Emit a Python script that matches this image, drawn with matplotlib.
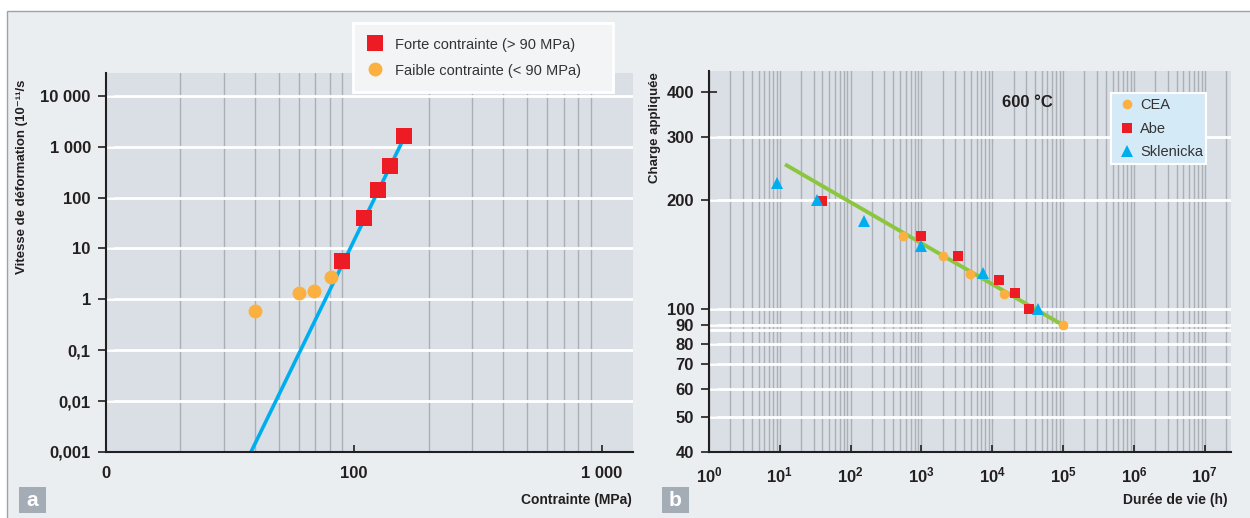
import matplotlib
matplotlib.use('Agg')
import matplotlib.pyplot as plt
from matplotlib.ticker import FixedLocator, NullLocator, NullFormatter
from matplotlib.patches import Rectangle
from matplotlib.lines import Line2D

plt.rcParams['font.family'] = ['Liberation Sans', 'DejaVu Sans']
plt.rcParams['mathtext.fontset'] = 'custom'
plt.rcParams['mathtext.rm'] = 'Liberation Sans'
plt.rcParams['mathtext.bf'] = 'Liberation Sans:bold'

# panel a : vitesse de deformation vs contrainte
stress_high = [90, 110, 125, 140, 160]
rate_high = [5.6, 39, 143, 424, 1640]
stress_low = [40, 60, 69, 81]
rate_low = [0.58, 1.31, 1.44, 2.8]
fit_a_x = [38.5, 160]
fit_a_y = [0.001, 1550]
a_yticks = [0.001, 0.01, 0.1, 1, 10, 100, 1000, 10000]
a_ylabels = ['0,001', '0,01', '0,1', '1', '10', '100', '1 000', '10 000']
a_xticks = [10, 100, 1000]
a_xlabels = ['0', '100', '1 000']

# panel b : charge appliquee vs duree de vie, 600 C
cea_t = [540, 2040, 4900, 14750, 1e5]
cea_s = [159, 140, 125, 110, 90]
abe_t = [40, 1000, 3330, 12600, 21100, 33300]
abe_s = [199, 159, 140, 120, 110.5, 99.7]
skl_t = [9.1, 33, 152, 970, 7470, 44400]
skl_s = [224, 200, 175, 149, 126, 100]
fit_b_t = [12.5, 1e5]
fit_b_s = [250, 90]
b_yticks = [40, 50, 60, 70, 80, 90, 100, 200, 300, 400]
b_xexp = list(range(0, 8))

RED = '#ed1c24'
ORANGE = '#fbb040'
BLUE = '#00aeef'
GREEN = '#8cc63f'
DARK = '#231f20'
PLOT_BG = '#d9dfe5'
PANEL_BG = '#ebeef1'
GRID = '#aab0b6'

W, H = 1250, 518
fig = plt.figure(figsize=(W / 100, H / 100), dpi=100)
fig.patch.set_facecolor('white')
fig.patches.append(Rectangle((7 / W, -0.01), 1.0, (H - 11) / H + 0.01, transform=fig.transFigure,
                             fc=PANEL_BG, ec='#9aa3ab', lw=1, zorder=-10))


def style_axes(ax):
    ax.set_facecolor(PLOT_BG)
    for s in ['top', 'right']:
        ax.spines[s].set_visible(False)
    for s in ['left', 'bottom']:
        ax.spines[s].set_color(DARK)
        ax.spines[s].set_linewidth(1.5)
    ax.set_axisbelow(True)
    ax.tick_params(axis='y', which='major', direction='inout', length=11.5, width=1.2,
                   color=DARK, labelsize=12, pad=5, labelcolor=DARK)
    ax.tick_params(axis='x', which='major', direction='in', length=5, width=1.2,
                   color=DARK, labelsize=12, pad=10, labelcolor=DARK)
    ax.tick_params(which='minor', length=0)


# ---------- panel a ----------
ax1 = fig.add_axes([105.7 / W, 1 - 452 / H, (633 - 105.7) / W, (452 - 73) / H])
ax1.set_xscale('log')
ax1.set_yscale('log')
ax1.set_xlim(10, 1334)
ax1.set_ylim(0.001, 28000)
style_axes(ax1)
ax1.yaxis.set_major_locator(FixedLocator(a_yticks))
ax1.set_yticklabels(a_ylabels, fontweight='bold')
ax1.yaxis.set_minor_locator(NullLocator())
ax1.xaxis.set_major_locator(FixedLocator(a_xticks))
ax1.set_xticklabels(a_xlabels, fontweight='bold')
ax1.xaxis.set_minor_locator(FixedLocator([m * 10 ** e for e in (1, 2) for m in range(2, 10)]))
ax1.xaxis.set_minor_formatter(NullFormatter())
ax1.grid(which='minor', axis='x', color=GRID, lw=1)
for v in a_yticks[1:]:
    ax1.axhline(v, color='white', lw=2, zorder=0.8)

ax1.plot(fit_a_x, fit_a_y, color=BLUE, lw=2.6, zorder=2)
ax1.plot(stress_low, rate_low, 'o', color=ORANGE, ms=10, mew=0, zorder=3)
ax1.plot(stress_high, rate_high, 's', color=RED, ms=11.5, mew=0, zorder=3)

h1 = [Line2D([], [], marker='s', ls='none', color=RED, ms=11.5, mew=0),
      Line2D([], [], marker='o', ls='none', color=ORANGE, ms=10, mew=0)]
leg1 = ax1.legend(h1, ['Forte contrainte (> 90 MPa)', 'Faible contrainte (< 90 MPa)'],
                  loc='upper left', bbox_to_anchor=(353 / W, 1 - 95 / H, 260 / W, 72 / H),
                  bbox_transform=fig.transFigure, mode='expand', borderaxespad=0,
                  fontsize=10.5, frameon=True, fancybox=False, framealpha=1,
                  facecolor='#f3f4f6', edgecolor='white', borderpad=1.0,
                  labelspacing=0.82, handlelength=1.0, handletextpad=0.85)
leg1.get_frame().set_linewidth(2)
for t in leg1.get_texts():
    t.set_color('#333333')

# ---------- panel b ----------
ax2 = fig.add_axes([709 / W, 1 - 452 / H, (1231 - 709) / W, (452 - 71) / H])
ax2.set_xscale('log')
ax2.set_yscale('log')
ax2.set_xlim(1, 10 ** 7.37)
ax2.set_ylim(40, 457)
style_axes(ax2)
ax2.yaxis.set_major_locator(FixedLocator(b_yticks))
ax2.set_yticklabels([str(v) for v in b_yticks], fontweight='bold')
ax2.yaxis.set_minor_locator(NullLocator())
ax2.xaxis.set_major_locator(FixedLocator([10.0 ** e for e in b_xexp]))
ax2.set_xticklabels([r'$\mathbf{10^{%d}}$' % e for e in b_xexp])
ax2.xaxis.set_minor_locator(FixedLocator([m * 10.0 ** e for e in range(0, 8) for m in range(2, 10)]))
ax2.xaxis.set_minor_formatter(NullFormatter())
ax2.grid(which='both', axis='x', color=GRID, lw=1)
for v in [50, 60, 70, 80, 87, 90, 100, 200, 300]:
    ax2.axhline(v, color='white', lw=2, zorder=0.8)

ax2.plot(fit_b_t, fit_b_s, color=GREEN, lw=2.8, zorder=2)
ax2.plot(cea_t, cea_s, 'o', color=ORANGE, ms=7, mew=0, zorder=3)
ax2.plot(abe_t, abe_s, 's', color=RED, ms=7.5, mew=0, zorder=3)
ax2.plot(skl_t, skl_s, '^', color=BLUE, ms=9, mew=0, zorder=3)

h2 = [Line2D([], [], marker='o', ls='none', color=ORANGE, ms=7, mew=0),
      Line2D([], [], marker='s', ls='none', color=RED, ms=7.5, mew=0),
      Line2D([], [], marker='^', ls='none', color=BLUE, ms=9, mew=0)]
leg2 = ax2.legend(h2, ['CEA', 'Abe', 'Sklenicka'],
                  loc='upper left', bbox_to_anchor=(1111 / W, 1 - 167 / H, 95 / W, 74 / H),
                  bbox_transform=fig.transFigure, mode='expand', borderaxespad=0,
                  fontsize=10.5, frameon=True, fancybox=False, framealpha=1,
                  facecolor='#d5eaf7', edgecolor='white', borderpad=0.35,
                  labelspacing=0.66, handlelength=1.5, handletextpad=0.15)
leg2.get_frame().set_linewidth(1.5)
for t in leg2.get_texts():
    t.set_color('#333333')

fig.text(1002 / W, 1 - 103 / H, '600 °C', fontsize=12, fontweight='bold', color=DARK,
         ha='left', va='center')

# axis titles
fig.text(632 / W, 1 - 500 / H, 'Contrainte (MPa)', fontsize=10, fontweight='bold',
         color=DARK, ha='right', va='center')
fig.text(1228 / W, 1 - 500 / H, 'Durée de vie (h)', fontsize=10, fontweight='bold',
         color=DARK, ha='right', va='center')
fig.text(22 / W, 1 - 80 / H, 'Vitesse de déformation (10⁻¹¹/s', fontsize=9.5,
         fontweight='bold', color=DARK, rotation=90, ha='center', va='top')
fig.text(655 / W, 1 - 72 / H, 'Charge appliquée', fontsize=9.5, fontweight='bold',
         color=DARK, rotation=90, ha='center', va='top')

# panel letters
for x0, letter in [(19, 'a'), (662, 'b')]:
    fig.patches.append(Rectangle((x0 / W, 1 - 513 / H), 27 / W, 26 / H,
                                 transform=fig.transFigure, fc='#a4adb6', ec='none'))
    fig.text((x0 + 13.5) / W, 1 - 500 / H, letter, fontsize=15, fontweight='bold',
             color='white', ha='center', va='center')

fig.savefig('out.png', dpi=100, facecolor=fig.get_facecolor())
